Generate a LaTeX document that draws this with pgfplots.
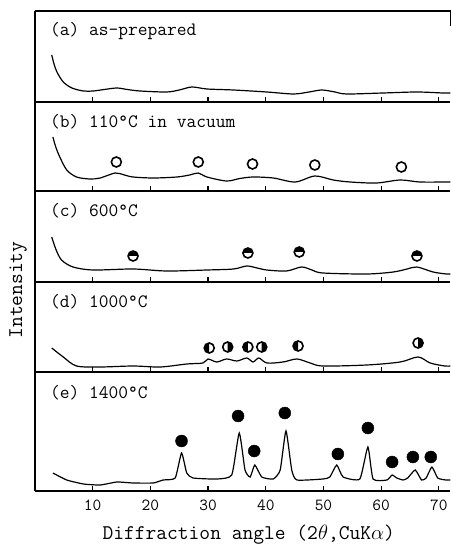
\documentclass[border=0pt]{standalone}
\usepackage{fontspec}
\usepackage{pgfplots}
\pgfplotsset{compat=1.18}

% half-filled circle marks
\pgfdeclareplotmark{halfT}{%
  \pgfpathmoveto{\pgfqpoint{\pgfplotmarksize}{0pt}}%
  \pgfpatharc{0}{180}{\pgfplotmarksize}%
  \pgfpathclose
  \pgfusepathqfill
  \pgfpathcircle{\pgfpointorigin}{\pgfplotmarksize}%
  \pgfusepathqstroke
}
\pgfdeclareplotmark{halfL}{%
  \pgfpathmoveto{\pgfqpoint{0pt}{\pgfplotmarksize}}%
  \pgfpatharc{90}{270}{\pgfplotmarksize}%
  \pgfpathclose
  \pgfusepathqfill
  \pgfpathcircle{\pgfpointorigin}{\pgfplotmarksize}%
  \pgfusepathqstroke
}
\pgfdeclareplotmark{halfR}{%
  \pgfpathmoveto{\pgfqpoint{0pt}{-\pgfplotmarksize}}%
  \pgfpatharc{-90}{90}{\pgfplotmarksize}%
  \pgfpathclose
  \pgfusepathqfill
  \pgfpathcircle{\pgfpointorigin}{\pgfplotmarksize}%
  \pgfusepathqstroke
}

\pgfplotsset{
  panel/.style={
    scale only axis, width=415.4bp, xmin=0, xmax=72, ymin=0,
    anchor=south west, clip=false,
    axis x line*=bottom, axis y line*=left,
    axis line style={-, line width=1.2bp, black},
    xtick={10,20,...,70}, xticklabels={}, ytick=\empty,
    tick align=inside, major tick length=5bp,
    tick style={line width=1.2bp, black},
    /pgf/number format/assume math mode=true,
  },
  curve/.style={black, line width=1.2bp, smooth, no marks},
}
\tikzset{lab/.style={anchor=west, inner sep=0pt, font=\ttfamily\fontsize{19}{21}\selectfont}}

\begin{document}
\begin{tikzpicture}
\useasboundingbox (-35bp,-53bp) rectangle (416bp,491bp);

% (a)
\begin{axis}[panel, at={(0,389bp)}, height=91bp, ymax=91]
\addplot[curve] coordinates {(2.9,47) (3.3,38) (3.8,30) (4.9,20) (6.4,14) (8.4,11) (10.1,11) (12,12.5) (14.2,14) (16,12.5) (18.2,11) (22.8,10) (25,12) (27.2,15) (29.8,13) (34.4,12) (40.2,10) (44.8,8) (47.5,10) (49.7,12) (52,10) (54,8) (60.3,9) (66.2,10) (70.7,9) (72,9)};
\node[lab] at (axis cs:2.6,71) {(a) as-prepared};
\draw[line width=1.2bp] (rel axis cs:0,1) -- (rel axis cs:1,1) -- ++(0,-15bp);
\end{axis}

% (b)
\begin{axis}[panel, at={(0,300bp)}, height=89bp, ymax=89]
\addplot[curve] coordinates {(3.1,54) (3.6,44) (4.3,34) (5.5,21) (7.2,14) (9.5,12) (11.3,13) (13.9,18) (15.5,16) (17,14) (20.5,13) (24.6,14) (26.8,16) (28.3,18) (29.8,14) (33.2,10) (35.5,12.5) (37.8,14) (41.3,13) (45.1,9) (48.5,15) (51.7,11) (54.6,9) (59.2,8) (63.3,11) (66.7,9) (71.3,9) (72,9)};
\addplot[only marks, mark=o, mark size=5bp, mark options={line width=1.6bp, black}] coordinates {(14.1,29) (28.3,29) (37.7,27) (48.5,26) (63.5,24)};
\node[lab] at (axis cs:2.6,69) {(b) 110°C in vacuum};
\end{axis}

% (c)
\begin{axis}[panel, at={(0,209bp)}, height=91bp, ymax=91]
\addplot[curve] coordinates {(2.9,45) (3.6,33) (4.6,22) (6.6,15) (10.1,12) (17,13) (22.8,11) (29.8,12) (34.4,13) (36.7,16) (38.5,14) (40.2,12) (43.6,11) (46.2,15) (48,12) (49.9,9) (57.5,8) (62.1,10) (64.5,13) (66.2,15) (69,10) (71.3,8) (72,8)};
\addplot[only marks, mark=halfT, mark size=5bp, mark options={line width=1.6bp, draw=black, fill=black}] coordinates {(17,26) (36.9,29) (45.8,30) (66.2,26)};
\node[lab] at (axis cs:2.6,71) {(c) 600°C};
\end{axis}

% (d)
\begin{axis}[panel, at={(0,119bp)}, height=90bp, ymax=90]
\addplot[curve] coordinates {(2.9,24) (4.9,15) (7.2,6) (11.3,5) (17,6) (21.7,5) (26.3,8) (29.1,9) (30,13) (31.5,10) (33.2,13) (35,11) (36.7,14) (37.8,10) (38.8,14) (40.2,9) (43,10) (45.4,13) (47.7,9) (49.9,6) (57.5,7) (63.3,10) (66.4,15) (68.5,9) (71,6) (72,6)};
\addplot[only marks, mark=halfL, mark size=5bp, mark options={line width=1.6bp, draw=black, fill=black}] coordinates {(30.2,24) (36.9,25) (45.6,26)};
\addplot[only marks, mark=halfR, mark size=5bp, mark options={line width=1.6bp, draw=black, fill=black}] coordinates {(33.4,25) (39.3,25) (66.4,29)};
\node[lab] at (axis cs:2.6,70) {(d) 1000°C};
\end{axis}

% (e)
\begin{axis}[panel, at={(0,0bp)}, height=119bp, ymax=119,
  xticklabels={10,20,30,40,50,60,70},
  ticklabel style={font=\ttfamily\fontsize{17}{19}\selectfont},
  xticklabel style={yshift=-5bp},
  xlabel={Diffraction angle (2$\theta$,CuK$\alpha$)},
  xlabel style={font=\ttfamily\fontsize{21}{23}\selectfont, at={(rel axis cs:0.5,0)}, anchor=center, yshift=-44bp, xshift=6bp}]
\addplot[curve, tension=0.3] coordinates {(3.1,18) (5.5,11) (8.4,7) (11.3,6) (14.2,9) (17,8) (20.5,8) (22.2,11) (24.3,13) (25.4,38) (26.3,18) (27.4,13) (31.5,12) (34.1,16) (35.4,58) (36.4,21) (37.3,14) (38.1,26) (39.3,14) (41.3,12) (42.5,21) (43.5,60) (44.5,21) (45.4,11) (49.9,12) (51.1,14) (52.3,26) (53.4,14) (56.3,12) (57.7,44) (58.6,12) (61,11) (61.9,16) (62.7,13) (63.8,11) (64.6,13) (65.9,21) (67,11) (67.8,13) (68.8,24) (69.8,13) (71.2,11) (72,11)};
\addplot[only marks, mark=*, mark size=6bp, mark options={black}] coordinates {(25.4,50) (35.2,75) (38,40) (43.3,78) (52.5,37) (57.7,63) (61.9,29) (65.5,34) (68.6,34)};
\node[lab] at (axis cs:2.6,98) {(e) 1400°C};
\end{axis}

\node[rotate=90, font=\ttfamily\fontsize{21}{23}\selectfont] at (-17bp,201bp) {Intensity};
\end{tikzpicture}
\end{document}
